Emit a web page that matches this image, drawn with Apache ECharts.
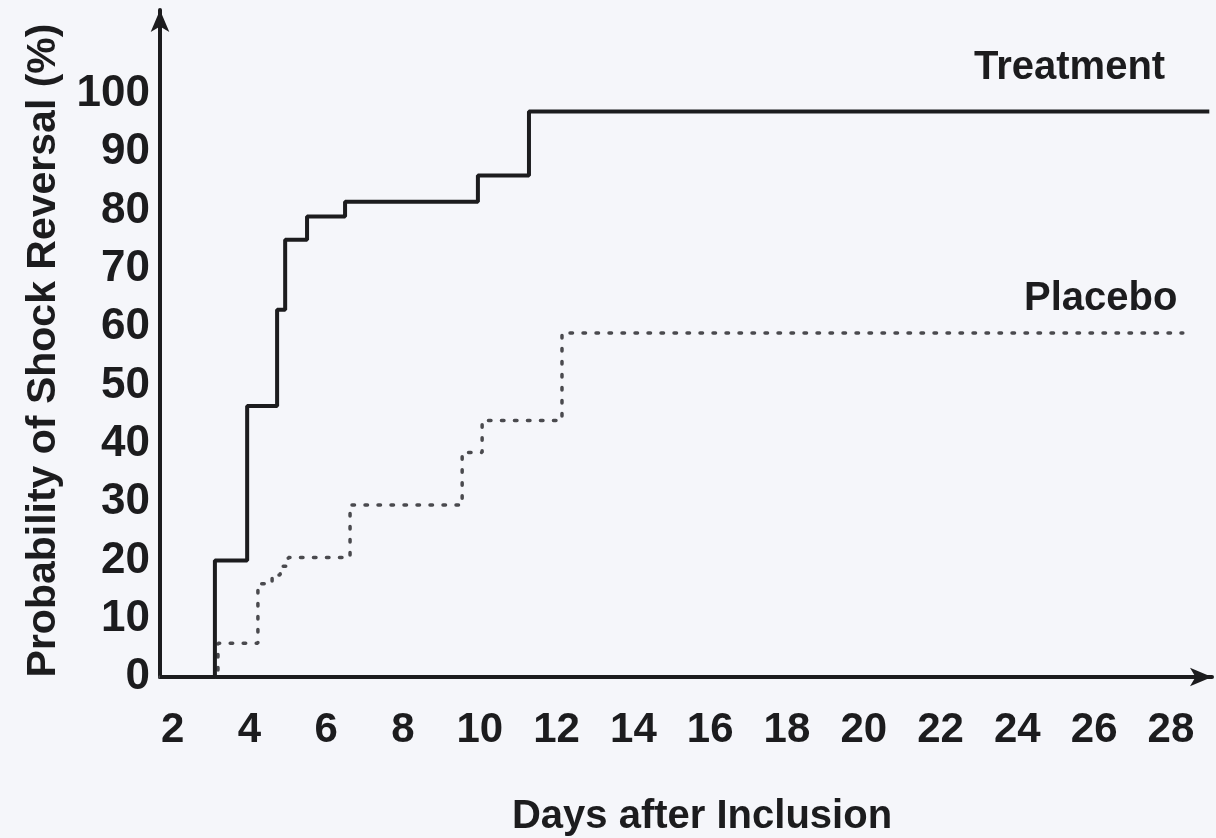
<!DOCTYPE html>
<html>
<head>
<meta charset="utf-8">
<script src="https://cdn.jsdelivr.net/npm/echarts@6/dist/echarts.min.js"></script>
<style>
  html, body { margin: 0; padding: 0; background: #f5f6fa; }
  #chart { width: 1216px; height: 838px; }
</style>
</head>
<body>
<div id="chart"></div>
<script>
// Day tick labels and percentage tick labels
const dayTicks = [2, 4, 6, 8, 10, 12, 14, 16, 18, 20, 22, 24, 26, 28];
const pctTicks = [0, 10, 20, 30, 40, 50, 60, 70, 80, 90, 100];

// Kaplan-Meier style step curves: day at which each level starts, and the level (%)
const treatmentDays = [1.67, 3.10, 3.94, 4.72, 4.93, 5.50, 6.49, 9.95, 11.28, 29.0];
const treatmentPct  = [0,    20,   46.5, 63,   75,   79,   81.5, 86,   97,    97];

const placeboDays = [1.67, 3.18, 4.22, 4.59, 4.80, 5.01, 6.62, 9.54, 10.06, 12.14, 28.31];
const placeboPct  = [0,    5.8,  16,   17.5, 19,   20.5, 29.5, 38.5, 44,    59,    59];

const ink = '#1c1c1e';
const font = "'Liberation Sans', Arial, Helvetica, sans-serif";

const chart = echarts.init(document.getElementById('chart'), null, { renderer: 'canvas' });

chart.setOption({
  backgroundColor: '#f5f6fa',
  animation: false,
  grid: { left: 160, right: 4, top: 10, bottom: 161, containLabel: false, outerBoundsMode: 'none' },
  xAxis: {
    type: 'value',
    min: 1.67,
    max: 29.07,
    name: 'Days after Inclusion',
    nameLocation: 'middle',
    nameGap: 120,
    nameTextStyle: { fontFamily: font, fontWeight: 'bold', fontSize: 40, color: ink, padding: [0, 0, 0, 32] },
    axisLine: { show: true, symbol: ['none', 'arrow'], symbolSize: [14, 22], lineStyle: { color: ink, width: 4 } },
    axisTick: { show: false },
    splitLine: { show: false },
    axisLabel: {
      customValues: dayTicks,
      margin: 32,
      fontFamily: font, fontWeight: 'bold', fontSize: 42, color: ink
    }
  },
  yAxis: {
    type: 'value',
    min: 0,
    max: 114.4,
    name: 'Probability of Shock Reversal (%)',
    nameLocation: 'middle',
    nameGap: 96,
    nameRotate: 90,
    nameTextStyle: { fontFamily: font, fontWeight: 'bold', fontSize: 41, color: ink, padding: [0, 14, 0, 0] },
    axisLine: { show: true, symbol: ['none', 'arrow'], symbolSize: [14, 22], lineStyle: { color: ink, width: 4 } },
    axisTick: { show: false },
    splitLine: { show: false },
    axisLabel: {
      customValues: pctTicks,
      margin: 10,
      fontFamily: font, fontWeight: 'bold', fontSize: 44, color: ink
    }
  },
  series: [
    {
      name: 'Treatment',
      type: 'line',
      step: 'end',
      showSymbol: false,
      data: treatmentDays.map((d, i) => [d, treatmentPct[i]]),
      lineStyle: { color: ink, width: 4 },
      z: 3
    },
    {
      name: 'Placebo',
      type: 'line',
      step: 'end',
      showSymbol: false,
      data: placeboDays.map((d, i) => [d, placeboPct[i]]),
      lineStyle: { color: '#4a4a4e', width: 3.5, type: [2.5, 10.5], cap: 'round' },
      z: 2
    }
  ],
  graphic: [
    {
      type: 'text', left: 974, top: 48,
      style: { text: 'Treatment', fontFamily: font, fontWeight: 'bold', fontSize: 40, fill: ink }
    },
    {
      type: 'text', left: 1024, top: 279,
      style: { text: 'Placebo', fontFamily: font, fontWeight: 'bold', fontSize: 40, fill: ink }
    }
  ]
});
</script>
</body>
</html>
